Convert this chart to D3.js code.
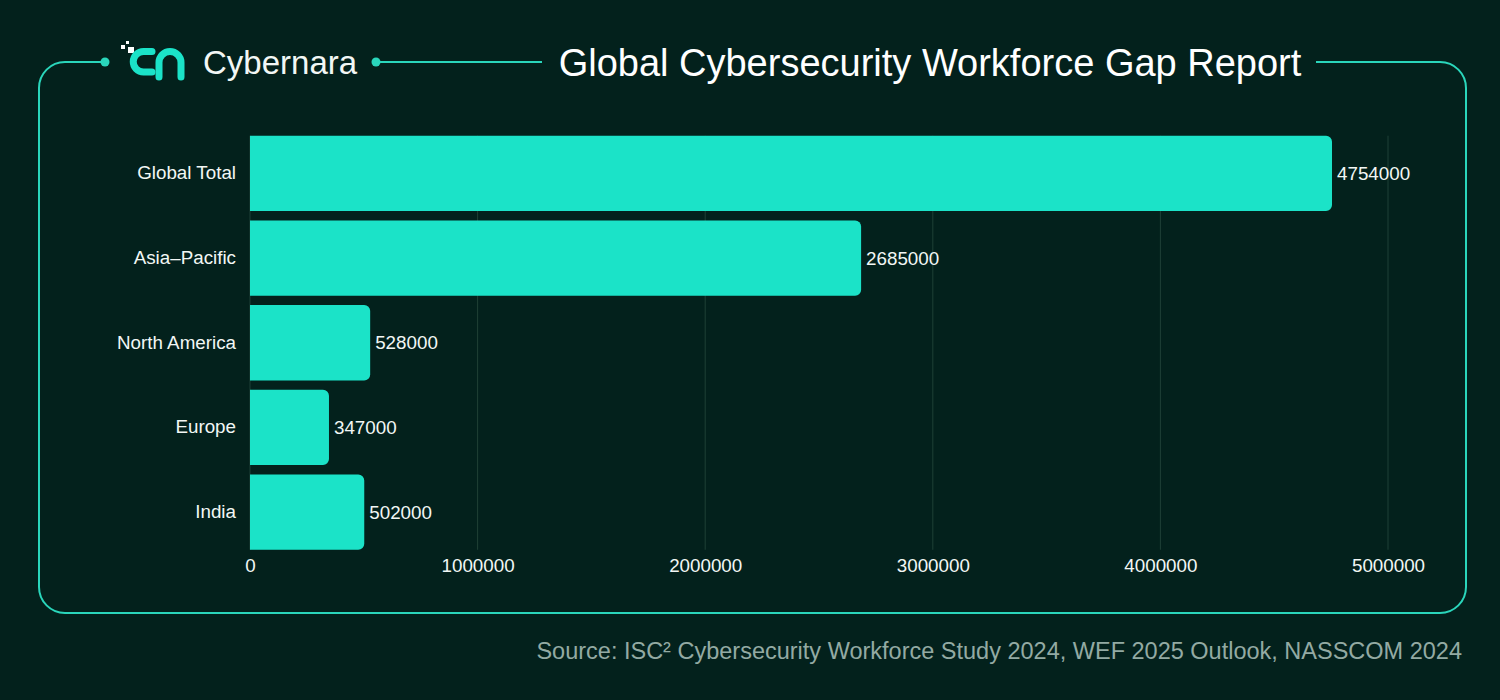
<!DOCTYPE html>
<html>
<head>
<meta charset="utf-8">
<script src="https://cdn.jsdelivr.net/npm/d3@7"></script>
<style>
  html, body { margin: 0; padding: 0; background: #03211c; }
  svg { display: block; }
  text { font-family: "Liberation Sans", Arial, sans-serif; }
</style>
</head>
<body>
<svg id="chart" width="1500" height="700"></svg>
<script>
'use strict';

// data
var regions = ['Global Total', 'Asia\u2013Pacific', 'North America', 'Europe', 'India'];
var gapValues = [4754000, 2685000, 528000, 347000, 502000];
var xTicks = [0, 1000000, 2000000, 3000000, 4000000, 5000000];

var title = 'Global Cybersecurity Workforce Gap Report';
var brand = 'Cybernara';
var source = 'Source: ISC\u00b2 Cybersecurity Workforce Study 2024, WEF 2025 Outlook, NASSCOM 2024';

var TEAL = '#1be3c8';
var FRAME = '#2ad6bb';
var GRID = '#1f4036';
var TEXT = '#f2f7f5';
var LABEL_SIZE = 18.8;

var svg = d3.select('#chart');
var rows = regions.map((r, i) => ({name: r, value: gapValues[i]}));

// frame with gaps in the top edge for logo and title
var L = 39, T = 62, R = 1466, B = 613, rad = 26;
var frame = svg.append('g').attr('class', 'frame')
  .attr('fill', 'none').attr('stroke', FRAME).attr('stroke-width', 2);

var p = d3.path();
p.moveTo(105, T);
p.lineTo(L + rad, T);
p.arcTo(L, T, L, T + rad, rad);
p.lineTo(L, B - rad);
p.arcTo(L, B, L + rad, B, rad);
p.lineTo(R - rad, B);
p.arcTo(R, B, R, B - rad, rad);
p.lineTo(R, T + rad);
p.arcTo(R, T, R - rad, T, rad);
p.lineTo(1316, T);
frame.append('path').attr('d', p.toString());
frame.append('line').attr('x1', 376).attr('x2', 542).attr('y1', T).attr('y2', T);

svg.selectAll('.frame-dot').data([105, 376]).enter()
  .append('circle')
  .attr('class', 'frame-dot')
  .attr('cx', d => d).attr('cy', T).attr('r', 4.5)
  .attr('fill', FRAME);

// logo
var logo = svg.append('g').attr('class', 'logo');
logo.selectAll('rect').data([[121, 45, 4], [126, 41, 3], [128, 47, 6]]).enter()
  .append('rect')
  .attr('x', d => d[0]).attr('y', d => d[1])
  .attr('width', d => d[2]).attr('height', d => d[2])
  .attr('fill', '#ffffff');
logo.append('path')
  .attr('d', 'M152,51.5 H143.5 A10.25,10.25 0 0 0 143.5,72 H152')
  .attr('fill', 'none').attr('stroke', TEAL).attr('stroke-width', 7).attr('stroke-linecap', 'round');
logo.append('path')
  .attr('d', 'M159,77 V62.5 A11,11 0 0 1 181,62.5 V77')
  .attr('fill', 'none').attr('stroke', TEAL).attr('stroke-width', 7).attr('stroke-linecap', 'round');
logo.append('text')
  .attr('x', 203).attr('y', 74)
  .attr('font-family', 'Inter, "Noto Sans", sans-serif')
  .attr('font-weight', 300)
  .attr('font-size', 33)
  .attr('fill', TEXT)
  .text(brand);

svg.append('text')
  .attr('x', 930).attr('y', 76)
  .attr('text-anchor', 'middle')
  .attr('font-size', 38)
  .attr('fill', '#ffffff')
  .text(title);

// scales
var x = d3.scaleLinear().domain([0, 5000000]).range([250, 1388]);
var y = d3.scaleBand().domain(regions).range([131.5, 554]).paddingInner(0.11).paddingOuter(0.05);

// grid
svg.append('g').attr('class', 'grid')
  .selectAll('line').data(xTicks).enter()
  .append('line')
  .attr('x1', d => x(d)).attr('x2', d => x(d))
  .attr('y1', y(regions[0])).attr('y2', y(regions[regions.length - 1]) + y.bandwidth())
  .attr('stroke', GRID).attr('stroke-width', 1);

// x axis
var xAxis = svg.append('g').attr('class', 'x-axis')
  .attr('transform', 'translate(0,' + 553 + ')')
  .call(d3.axisBottom(x).tickValues(xTicks).tickFormat(d3.format('d')).tickSize(0).tickPadding(6));
xAxis.select('.domain').remove();
xAxis.selectAll('text').attr('font-size', LABEL_SIZE).attr('fill', TEXT)
  .attr('font-family', '"Liberation Sans", Arial, sans-serif');

// y axis
var yAxis = svg.append('g').attr('class', 'y-axis')
  .attr('transform', 'translate(' + 250 + ',0)')
  .call(d3.axisLeft(y).tickSize(0).tickPadding(14));
yAxis.select('.domain').remove();
yAxis.selectAll('text').attr('font-size', LABEL_SIZE).attr('fill', TEXT)
  .attr('font-family', '"Liberation Sans", Arial, sans-serif');

// bars: square on the left, rounded on the right
function barPath(d) {
  var x0 = x(0), x1 = x(d.value), y0 = y(d.name), h = y.bandwidth();
  var r = Math.min(6, (x1 - x0) / 2);
  var bp = d3.path();
  bp.moveTo(x0, y0);
  bp.lineTo(x1 - r, y0);
  bp.arcTo(x1, y0, x1, y0 + r, r);
  bp.lineTo(x1, y0 + h - r);
  bp.arcTo(x1, y0 + h, x1 - r, y0 + h, r);
  bp.lineTo(x0, y0 + h);
  bp.closePath();
  return bp.toString();
}

svg.append('g').attr('class', 'bars')
  .selectAll('path').data(rows).enter()
  .append('path')
  .attr('d', barPath)
  .attr('fill', TEAL);

svg.append('g').attr('class', 'values')
  .selectAll('text').data(rows).enter()
  .append('text')
  .attr('x', d => x(d.value) + 5)
  .attr('y', d => y(d.name) + y.bandwidth() / 2)
  .attr('dy', '0.35em')
  .attr('font-size', LABEL_SIZE)
  .attr('fill', TEXT)
  .text(d => d.value);

svg.append('text')
  .attr('x', 1462).attr('y', 659)
  .attr('text-anchor', 'end')
  .attr('font-size', 23.5)
  .attr('fill', '#93aaa3')
  .text(source);
</script>
</body>
</html>
